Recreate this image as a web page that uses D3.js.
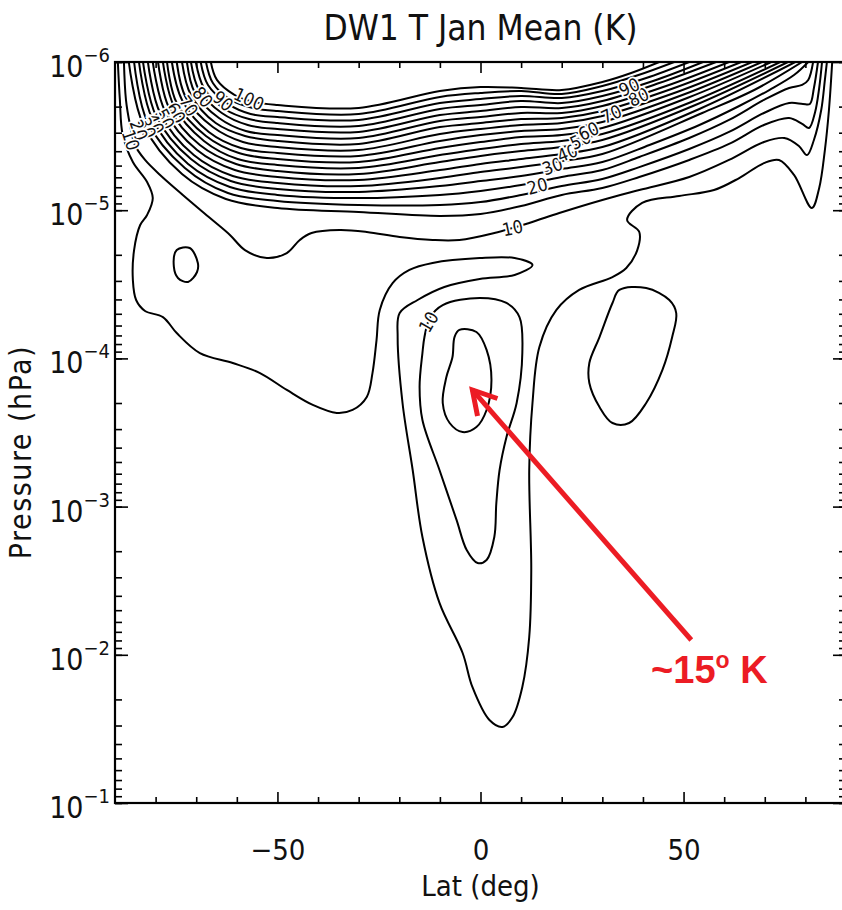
<!DOCTYPE html>
<html>
<head>
<meta charset="utf-8">
<script src="https://cdn.jsdelivr.net/npm/d3@7"></script>
<style>
  body { margin: 0; background: #fff; }
  svg text { font-family: "DejaVu Sans Condensed", "Liberation Sans Narrow", "DejaVu Sans", sans-serif; font-stretch: condensed; fill: #111; }
</style>
</head>
<body>
<script>
// DW1 temperature amplitude, January mean, contour plot lat vs pressure (log)

// ---- axis values ----
var latMajor = [-50, 0, 50];
var latMinor = [-80, -70, -60, -40, -30, -20, -10, 10, 20, 30, 40, 60, 70, 80];
var pDecades = [1e-6, 1e-5, 1e-4, 1e-3, 1e-2, 1e-1];

// ---- contour lines: [lat (deg), log10 pressure (hPa)] ----
var t05 = [[-89.3,-6],[-88.8,-5.744],[-88.1,-5.507],[-85.6,-5.325],[-82.1,-5.19],[-80.7,-5.082],[-82.1,-4.968],[-83.8,-4.9],[-85.3,-4.731],[-85.6,-4.529],[-84.8,-4.394],[-82.6,-4.32],[-78.2,-4.279],[-74.8,-4.171],[-69.1,-4.036],[-61.0,-3.969],[-54.3,-3.901],[-47.7,-3.787],[-41.3,-3.686],[-35.4,-3.632],[-31.5,-3.652],[-28.0,-3.74],[-26.6,-3.901],[-25.6,-4.124],[-24.8,-4.327],[-21.6,-4.509],[-17.5,-4.597],[-11.8,-4.644],[-0.2,-4.677],[8.4,-4.677],[12.8,-4.63],[8.4,-4.563],[-0.2,-4.536],[-8.9,-4.482],[-15.5,-4.394],[-19.9,-4.306],[-20.4,-4.144],[-19.2,-3.699],[-16.7,-3.247],[-14.3,-2.795],[-10.1,-2.35],[-4.4,-2.012],[-2.0,-1.783],[2.2,-1.56],[5.4,-1.513],[7.9,-1.58],[10.3,-1.783],[12.0,-2.12],[12.5,-2.572],[12.0,-3.247],[12.8,-3.699],[14.5,-4.077],[18.7,-4.327],[24.3,-4.462],[32.5,-4.549],[35.9,-4.61],[38.6,-4.731],[39.1,-4.853],[36.1,-4.934],[39.8,-5.049],[48.9,-5.096],[57.5,-5.136],[63.7,-5.217],[69.8,-5.318],[73.5,-5.339],[77.2,-5.238],[81.6,-5.015],[83.4,-5.15],[84.8,-5.406],[85.8,-5.676],[86.6,-6]];
var t10 = [[-87.8,-6],[-87.3,-5.744],[-86.3,-5.575],[-85.1,-5.44],[-82.6,-5.339],[-78.9,-5.238],[-73.3,-5.103],[-66.6,-4.947],[-61.7,-4.833],[-58.0,-4.731],[-52.6,-4.677],[-47.7,-4.711],[-44.5,-4.799],[-41.6,-4.846],[-34.7,-4.866],[-28.0,-4.853],[-19.9,-4.819],[-11.8,-4.799],[-5.2,-4.799],[3.4,-4.846],[12.0,-4.914],[19.4,-4.981],[30.0,-5.069],[39.1,-5.136],[51.4,-5.224],[61.2,-5.339],[69.8,-5.46],[74.8,-5.487],[78.4,-5.433],[80.4,-5.372],[82.1,-5.474],[83.9,-5.676],[84.8,-5.879],[85.3,-6]];
var t15 = [[-86.6,-6],[-83.1,-5.582],[-73.5,-5.244],[-62.7,-5.076],[-50,-5.015],[-30,-4.988],[-10,-4.961],[0,-4.974],[10,-5.028],[20,-5.103],[30,-5.15],[39.1,-5.224],[51.4,-5.339],[61.2,-5.447],[69.8,-5.575],[76.0,-5.622],[79.2,-5.582],[80.9,-5.555],[82.4,-5.663],[83.4,-5.825],[84.1,-6]];
var t20 = [[-85.3,-6],[-82.1,-5.602],[-72.8,-5.285],[-62.2,-5.116],[-50,-5.062],[-30,-5.035],[-10,-5.035],[0,-5.055],[10,-5.103],[20,-5.163],[30,-5.211],[39.1,-5.291],[51.4,-5.413],[61.2,-5.528],[69.8,-5.656],[76.0,-5.723],[79.4,-5.717],[81.1,-5.717],[82.1,-5.825],[83.1,-6]];
var t25 = [[-84.1,-6],[-80.9,-5.622],[-72.0,-5.312],[-61.7,-5.157],[-50,-5.103],[-30,-5.082],[-10,-5.103],[0,-5.13],[10,-5.17],[20,-5.224],[30,-5.271],[39.1,-5.359],[51.4,-5.487],[61.2,-5.609],[69.8,-5.744],[76.0,-5.825],[79.2,-5.845],[80.7,-5.879],[81.9,-6]];
var t30 = [[-83.1,-6],[-79.9,-5.636],[-71.3,-5.345],[-61.5,-5.197],[-50,-5.143],[-30,-5.123],[-10,-5.163],[0,-5.197],[10,-5.231],[20,-5.278],[30,-5.325],[41.6,-5.44],[53.9,-5.575],[63.7,-5.703],[71.1,-5.811],[77.2,-5.912],[80.7,-6]];
var t35 = [[-81.9,-6],[-78.9,-5.656],[-70.6,-5.372],[-61.0,-5.231],[-50,-5.184],[-30,-5.163],[-10,-5.217],[0,-5.258],[10,-5.291],[20,-5.332],[30,-5.379],[54.6,-5.656],[67.4,-5.811],[79.2,-6]];
var t40 = [[-80.7,-6],[-77.7,-5.669],[-69.8,-5.406],[-60.5,-5.271],[-50,-5.224],[-30,-5.204],[-10,-5.271],[0,-5.312],[10,-5.345],[20,-5.379],[30,-5.426],[53.9,-5.683],[77.5,-6]];
var t45 = [[-79.4,-6],[-76.7,-5.69],[-69.1,-5.44],[-60.2,-5.312],[-50,-5.264],[-30,-5.244],[-10,-5.325],[0,-5.366],[10,-5.399],[20,-5.426],[30,-5.474],[52.9,-5.71],[75.7,-6]];
var t50 = [[-78.2,-6],[-75.5,-5.703],[-68.1,-5.467],[-59.8,-5.345],[-50,-5.305],[-30,-5.285],[-10,-5.372],[0,-5.413],[10,-5.447],[20,-5.467],[30,-5.514],[51.9,-5.73],[73.8,-6]];
var t55 = [[-77.2,-6],[-74.8,-5.723],[-67.6,-5.501],[-59.5,-5.386],[-50,-5.345],[-30,-5.325],[-10,-5.42],[0,-5.46],[10,-5.494],[20,-5.507],[30,-5.555],[50.9,-5.757],[71.6,-6]];
var t60 = [[-76.0,-6],[-73.5,-5.744],[-66.9,-5.528],[-59.0,-5.42],[-50,-5.386],[-30,-5.366],[-10,-5.467],[0,-5.507],[10,-5.534],[20,-5.548],[30,-5.595],[49.7,-5.777],[69.3,-6]];
var t65 = [[-74.8,-6],[-72.5,-5.757],[-65.9,-5.561],[-58.5,-5.46],[-50,-5.426],[-30,-5.406],[-10,-5.514],[0,-5.548],[10,-5.575],[20,-5.588],[30,-5.636],[48.4,-5.798],[66.9,-6]];
var t70 = [[-73.5,-6],[-71.3,-5.777],[-65.2,-5.588],[-58.0,-5.501],[-50,-5.467],[-30,-5.447],[-10,-5.561],[0,-5.588],[10,-5.615],[20,-5.622],[30,-5.669],[47.0,-5.818],[64.2,-6]];
var t75 = [[-72.3,-6],[-70.3,-5.791],[-64.4,-5.622],[-57.8,-5.534],[-50,-5.507],[-30,-5.487],[-10,-5.602],[0,-5.629],[10,-5.656],[20,-5.656],[30,-5.703],[45.7,-5.838],[61.2,-6]];
var t80 = [[-71.3,-6],[-69.3,-5.811],[-63.7,-5.656],[-57.3,-5.575],[-50,-5.548],[-30,-5.528],[-10,-5.642],[0,-5.669],[10,-5.696],[20,-5.69],[30,-5.737],[44.0,-5.858],[58.0,-6]];
var t85 = [[-70.1,-6],[-68.1,-5.825],[-63.0,-5.683],[-57.0,-5.615],[-50,-5.588],[-30,-5.568],[-10,-5.683],[0,-5.71],[10,-5.737],[20,-5.723],[30,-5.771],[42.5,-5.872],[54.8,-6]];
var t90 = [[-68.9,-6],[-67.1,-5.845],[-62.2,-5.717],[-56.6,-5.649],[-50,-5.629],[-30,-5.609],[-10,-5.723],[0,-5.75],[10,-5.771],[20,-5.757],[30,-5.804],[40.8,-5.892],[51.4,-6]];
var t95 = [[-67.6,-6],[-65.9,-5.858],[-61.5,-5.744],[-56.1,-5.69],[-50,-5.669],[-30,-5.649],[-10,-5.764],[0,-5.791],[10,-5.804],[20,-5.784],[30,-5.838],[38.9,-5.912],[47.7,-6]];
var t100 = [[-66.4,-6],[-64.9,-5.879],[-60.5,-5.777],[-55.8,-5.73],[-50,-5.71],[-30,-5.69],[-10,-5.804],[0,-5.831],[10,-5.825],[20,-5.811],[30,-5.865],[37.1,-5.926],[44.0,-6]];

// closed contours
var tongue10 = [[-9.3,-4.36],[-0.2,-4.408],[6.4,-4.374],[9.6,-4.279],[10.3,-4.036],[8.9,-3.699],[6.4,-3.47],[4.7,-3.247],[3.9,-3.024],[3.4,-2.795],[1.5,-2.64],[-0.7,-2.619],[-3.4,-2.707],[-5.9,-2.91],[-10.1,-3.247],[-14.3,-3.584],[-15.0,-3.807],[-14.3,-4.036],[-13.8,-4.144],[-12.5,-4.273]];
var core15 = [[-5.2,-4.192],[-1.0,-4.178],[1.5,-4.057],[2.7,-3.854],[1.5,-3.652],[-1.0,-3.537],[-4.4,-3.503],[-7.6,-3.564],[-9.3,-3.699],[-8.4,-3.874],[-6.9,-4.009],[-6.4,-4.144]];
var blobEast = [[34.2,-4.462],[40.8,-4.475],[46.5,-4.394],[48.2,-4.306],[47.2,-4.144],[44.8,-3.922],[40.8,-3.699],[36.6,-3.564],[32.5,-3.564],[29.3,-3.672],[26.8,-3.834],[26.8,-3.969],[29.3,-4.144],[32.5,-4.374]];
var blobWest = [[-74.8,-4.731],[-71.6,-4.745],[-69.6,-4.644],[-69.8,-4.583],[-72.0,-4.516],[-74.5,-4.543],[-75.5,-4.617]];

// contour labels
var labelText = ["10", "20", "30", "40", "50", "60", "70", "80", "90",
                 "100", "90", "80", "70", "60", "50", "40", "30", "20", "10", "10"];
var labelLat = [7.9, 14.0, 17.7, 21.4, 24.6, 26.6, 32.2, 38.9, 36.6,
                -57.0, -63.4, -68.4, -72.0, -75.0, -77.7, -80.2, -82.1, -84.1, -86.1, -12.8];
var labelLogP = [-4.88, -5.163, -5.298, -5.386, -5.474, -5.534, -5.649, -5.764, -5.831,
                 -5.75, -5.737, -5.764, -5.703, -5.656, -5.615, -5.582, -5.555, -5.541, -5.474, -4.246];
var labelAngle = [-12, -15, -20, -22, -25, -25, -25, -25, -25,
                  25, 40, 50, 55, 60, 62, 65, 68, 70, 72, -60];

// annotation
var arrowTip = [-2.0, -3.787];
var arrowTail = [51.9, -2.1];
var noteAt = [42.0, -1.81];

// ---- page ----
var margin = {top: 62, right: -4, bottom: 107, left: 115},
  width = 842 - margin.left - margin.right,
  height = 910 - margin.top - margin.bottom;

var x = d3.scaleLinear().domain([-90, 90]).range([0, width]);
var y = d3.scaleLog().domain([1e-6, 1e-1]).range([0, height]);

var svg = d3.select("body").append("svg")
  .attr("width", 842)
  .attr("height", 910);

var chart = svg.append("g")
  .attr("transform", "translate(" + margin.left + "," + margin.top + ")");

chart.append("clipPath").attr("id", "plotClip")
  .append("rect").attr("width", width).attr("height", height);

var line = d3.line()
  .x(function(d) { return x(d[0]); })
  .y(function(d) { return y(Math.pow(10, d[1])); })
  .curve(d3.curveCatmullRom.alpha(0.5));

var loop = d3.line()
  .x(function(d) { return x(d[0]); })
  .y(function(d) { return y(Math.pow(10, d[1])); })
  .curve(d3.curveCatmullRomClosed.alpha(0.5));

var contours = chart.append("g").attr("clip-path", "url(#plotClip)");

var openLines = [t05, t10, t15, t20, t25, t30, t35, t40, t45, t50, t55, t60,
                 t65, t70, t75, t80, t85, t90, t95, t100];
var closedLines = [tongue10, core15, blobEast, blobWest];

contours.selectAll(".open").data(openLines).enter().append("path")
  .attr("class", "open")
  .attr("fill", "none")
  .attr("stroke", "#000")
  .attr("stroke-width", 2)
  .attr("d", line);

contours.selectAll(".closed").data(closedLines).enter().append("path")
  .attr("class", "closed")
  .attr("fill", "none")
  .attr("stroke", "#000")
  .attr("stroke-width", 2)
  .attr("d", loop);

// labels sit in a white gap cut into the line
contours.selectAll(".clabel").data(labelText).enter().append("text")
  .attr("class", "clabel")
  .attr("transform", function(d, i) {
    return "translate(" + x(labelLat[i]) + "," + y(Math.pow(10, labelLogP[i])) + ") rotate(" + labelAngle[i] + ")";
  })
  .attr("text-anchor", "middle")
  .attr("dy", "0.36em")
  .attr("font-size", 18)
  .attr("paint-order", "stroke")
  .attr("stroke", "#fff")
  .attr("stroke-width", 3.5)
  .text(function(d) { return d; });

// ---- axes ----
var axisStyle = function(g) {
  g.select(".domain").remove();
  g.selectAll(".tick line").attr("stroke", "#000").attr("stroke-width", 1.6);
};

chart.append("g")
  .attr("transform", "translate(0," + height + ")")
  .call(d3.axisBottom(x).tickValues(latMinor).tickSize(-6).tickFormat(""))
  .call(axisStyle);

var xb = chart.append("g")
  .attr("transform", "translate(0," + height + ")")
  .call(d3.axisBottom(x).tickValues(latMajor).tickSize(-11).tickPadding(36)
    .tickFormat(function(d) { return d < 0 ? "\u2212" + Math.abs(d) : d; }))
  .call(axisStyle);
xb.selectAll("text").attr("font-size", 29).attr("font-weight", 300).attr("dy", "0.71em");

chart.append("g")
  .call(d3.axisTop(x).tickValues(latMinor).tickSize(-6).tickFormat(""))
  .call(axisStyle);
chart.append("g")
  .call(d3.axisTop(x).tickValues(latMajor).tickSize(-11).tickFormat(""))
  .call(axisStyle);

chart.append("g")
  .call(d3.axisLeft(y).tickValues(y.ticks()).tickSize(-7).tickFormat(""))
  .call(axisStyle);
chart.append("g")
  .call(d3.axisLeft(y).tickValues(pDecades).tickSize(-13).tickFormat(""))
  .call(axisStyle);
chart.append("g")
  .attr("transform", "translate(" + width + ",0)")
  .call(d3.axisRight(y).tickValues(y.ticks()).tickSize(-7).tickFormat(""))
  .call(axisStyle);
chart.append("g")
  .attr("transform", "translate(" + width + ",0)")
  .call(d3.axisRight(y).tickValues(pDecades).tickSize(-13).tickFormat(""))
  .call(axisStyle);

// y tick labels as 10 with a raised exponent
var ylab = chart.selectAll(".ylab").data(pDecades).enter().append("text")
  .attr("class", "ylab")
  .attr("x", -5)
  .attr("y", function(d) { return y(d) + 15; })
  .attr("text-anchor", "end")
  .attr("font-weight", 300)
  .attr("font-size", 30);
ylab.append("tspan").text("10");
ylab.append("tspan")
  .attr("dy", -15)
  .attr("font-size", 20)
  .text(function(d) { return "\u2212" + Math.abs(Math.round(Math.log10(d))); });

// frame
chart.append("rect")
  .attr("width", width)
  .attr("height", height)
  .attr("fill", "none")
  .attr("stroke", "#000")
  .attr("stroke-width", 2.2);

// titles
svg.append("text")
  .attr("x", margin.left + x(0))
  .attr("y", 40)
  .attr("text-anchor", "middle")
  .attr("font-size", 35)
  .attr("font-weight", 300)
  .text("DW1 T Jan Mean (K)");

svg.append("text")
  .attr("x", margin.left + x(0))
  .attr("y", 896)
  .attr("text-anchor", "middle")
  .attr("font-size", 29)
  .attr("font-weight", 300)
  .text("Lat (deg)");

svg.append("text")
  .attr("transform", "translate(31,452) rotate(-90)")
  .attr("text-anchor", "middle")
  .attr("font-size", 30)
  .attr("font-weight", 300)
  .attr("letter-spacing", 1.5)
  .text("Pressure (hPa)");

// ---- red annotation ----
var red = "#ec1c24";
var tx = x(arrowTip[0]), ty = y(Math.pow(10, arrowTip[1]));
var sx = x(arrowTail[0]), sy = y(Math.pow(10, arrowTail[1]));
var ang = Math.atan2(sy - ty, sx - tx);
var barb = 24, spread = Math.PI / 6;

var note = chart.append("g");
note.append("line")
  .attr("x1", sx).attr("y1", sy)
  .attr("x2", tx).attr("y2", ty)
  .attr("stroke", red)
  .attr("stroke-width", 5);
note.append("path")
  .attr("d", "M" + (tx + barb * Math.cos(ang - spread)) + "," + (ty + barb * Math.sin(ang - spread)) +
    "L" + tx + "," + ty +
    "L" + (tx + barb * Math.cos(ang + spread)) + "," + (ty + barb * Math.sin(ang + spread)))
  .attr("fill", "none")
  .attr("stroke", red)
  .attr("stroke-width", 5)
  .attr("stroke-linecap", "square");

var noteText = note.append("text")
  .attr("x", x(noteAt[0]))
  .attr("y", y(Math.pow(10, noteAt[1])))
  .style("font-family", "'Liberation Sans', Arial, sans-serif")
  .style("font-stretch", "normal")
  .style("fill", red)
  .attr("font-weight", "bold")
  .attr("font-size", 38);
noteText.append("tspan").text("~15");
noteText.append("tspan").attr("dy", -15).attr("font-size", 23).text("o");
noteText.append("tspan").attr("dy", 15).text(" K");
</script>
</body>
</html>
